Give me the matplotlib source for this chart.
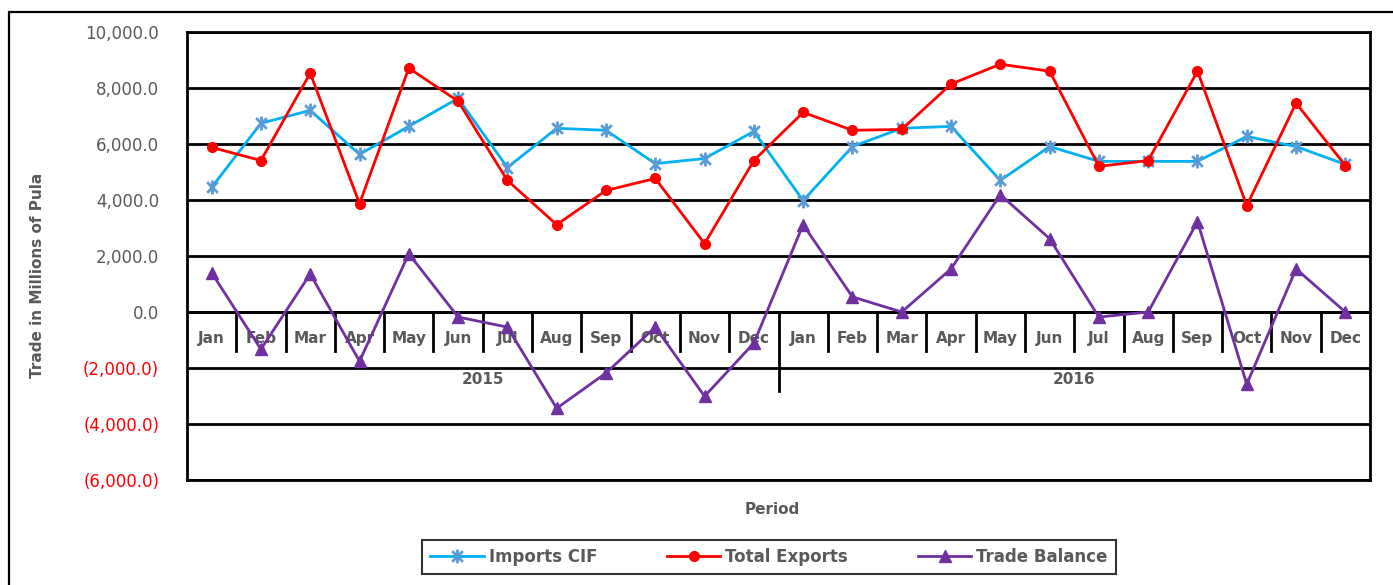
import matplotlib
matplotlib.use("Agg")
import matplotlib.pyplot as plt
import numpy as np
from matplotlib.path import Path
from matplotlib.patches import Rectangle
from matplotlib.ticker import FuncFormatter

months = ["Jan", "Feb", "Mar", "Apr", "May", "Jun", "Jul", "Aug", "Sep", "Oct", "Nov", "Dec"]
years = ["2015", "2016"]

imports_cif = [4450, 6740, 7200, 5630, 6630, 7630, 5160, 6560, 6490, 5300, 5480, 6450,
               3980, 5910, 6560, 6630, 4700, 5910, 5380, 5380, 5380, 6270, 5910, 5270]
total_exports = [5880, 5410, 8530, 3870, 8710, 7530, 4700, 3120, 4340, 4770, 2440, 5410,
                 7130, 6490, 6520, 8140, 8850, 8600, 5200, 5410, 8600, 3800, 7460, 5230]
trade_balance = [1400, -1330, 1360, -1760, 2080, -180, -540, -3440, -2180, -540, -3010, -1110,
                 3120, 540, 0, 1540, 4190, 2620, -180, 0, 3230, -2580, 1540, 0]

GRAY = "#595959"
W, H = 1393, 585

fig = plt.figure(figsize=(W / 100, H / 100), dpi=100)
fig.patches.append(Rectangle((9 / W, -0.1), 1.2, 1 - 12 / H + 0.1, transform=fig.transFigure,
                             fill=False, edgecolor="black", linewidth=1.6))

ax = fig.add_axes([187 / W, 1 - 480 / H, (1370 - 187) / W, (480 - 32) / H])

n = len(imports_cif)
x = np.arange(n) + 0.5

# asterisk-like marker: x plus vertical bar
star = Path([(-1, -1), (1, 1), (-1, 1), (1, -1), (0, -1.3), (0, 1.3)],
            [Path.MOVETO, Path.LINETO, Path.MOVETO, Path.LINETO, Path.MOVETO, Path.LINETO])

ax.plot(x, imports_cif, color="#00B0F0", lw=2, marker=star, ms=10, mec="#5B9BD5", mew=2,
        label="Imports CIF", zorder=4)
ax.plot(x, total_exports, color="#FF0000", lw=2, marker="o", ms=7, label="Total Exports", zorder=5)
ax.plot(x, trade_balance, color="#7030A0", lw=2, marker="^", ms=9, label="Trade Balance", zorder=6)

ax.set_xlim(0, n)
ax.set_ylim(-6000, 10000)
ax.set_yticks(np.arange(-6000, 10001, 2000))
ax.yaxis.grid(True, color="black", lw=2)
ax.set_axisbelow(True)
ax.set_xticks([])
ax.tick_params(axis="y", length=0, pad=20, labelsize=12, labelcolor=GRAY)
ax.yaxis.set_major_formatter(FuncFormatter(
    lambda v, p: "({:,.1f})".format(-v) if v < 0 else "{:,.1f}".format(v)))
for lab in ax.get_yticklabels():
    if lab.get_text().startswith("("):
        lab.set_color("red")
for s in ax.spines.values():
    s.set_linewidth(2)

# category axis drawn inside the plot at y = 0
ax.axhline(0, color="black", lw=2, zorder=3)
for k in range(1, n):
    bottom = -2830 if k == 12 else -1400
    ax.plot([k, k], [0, bottom], color="black", lw=2, zorder=3)
for i in range(n):
    ax.text(x[i], -930, months[i % 12], ha="center", va="center", fontsize=11,
            fontweight="bold", color=GRAY, zorder=2)
for j, yr in enumerate(years):
    ax.text(6 + 12 * j, -2400, yr, ha="center", va="center", fontsize=11,
            fontweight="bold", color=GRAY)

fig.text(38 / W, 1 - 275 / H, "Trade in Millions of Pula", rotation=90, ha="center", va="center",
         fontsize=11, fontweight="bold", color=GRAY)
fig.text(772 / W, 1 - 509 / H, "Period", ha="center", va="center", fontsize=11,
         fontweight="bold", color=GRAY)

leg = fig.legend(loc="center", bbox_to_anchor=(769 / W, 1 - 557 / H), ncol=3, frameon=True,
                 fancybox=False, edgecolor="black", fontsize=12, handlelength=3.2,
                 columnspacing=4.2, borderpad=0.5, borderaxespad=0, handletextpad=0.3)
leg.get_frame().set_linewidth(1.5)
for t in leg.get_texts():
    t.set_color(GRAY)
    t.set_fontweight("bold")

fig.savefig("out.png", dpi=100)
